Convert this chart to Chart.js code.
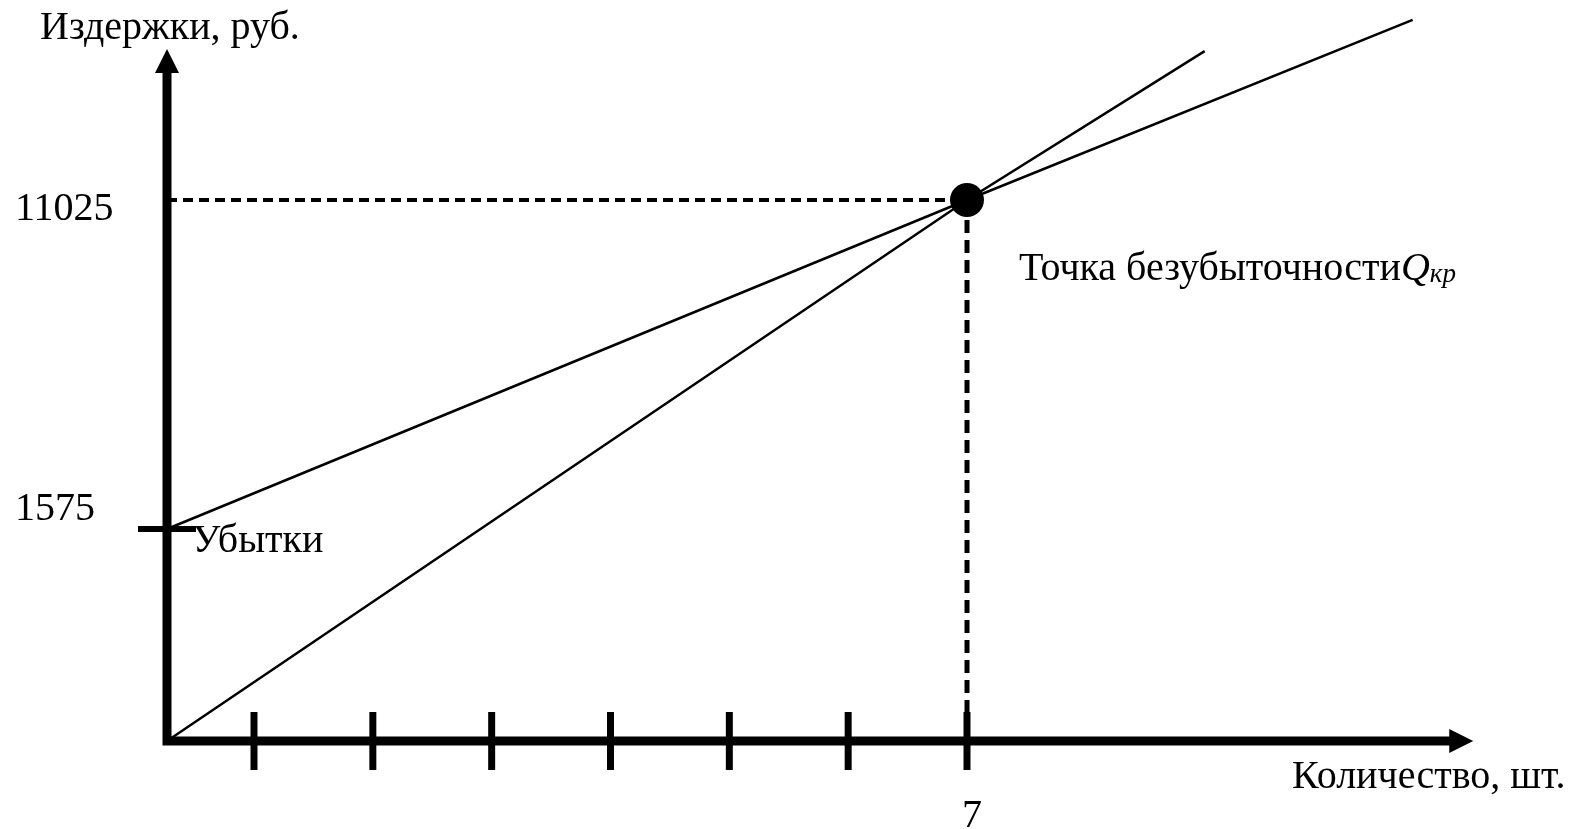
<!DOCTYPE html>
<html>
<head>
<meta charset="utf-8">
<script src="https://cdn.jsdelivr.net/npm/chart.js@4"></script>
<style>
  html, body { margin: 0; padding: 0; background: #fff; }
  #wrap { width: 1575px; height: 829px; position: relative; }
</style>
</head>
<body>
<div id="wrap"><canvas id="breakEvenChart"></canvas></div>
<script>
// quantity, pcs (tick marks on the x axis)
const tickQuantities = [1, 2, 3, 4, 5, 6, 7];
const breakEvenQty = 7;
const breakEvenCost = 11025;
const fixedCost = 1575;

// the two lines as drawn; the last point is where each line stops on the picture
const revenueQty = [0, 7, 9];
const revenueCost = [0, 11025, 15300];
const totalQty = [0, 7, 10.75];
const totalCost = [1575, 11025, 16200];

const yTickValues = [1575, 11025];
const yTickLabels = ['1575', '11025'];
const xTickLabel = '7';

// where the axis arrows end
const xAxisEnd = 11.26;
const yAxisEnd = 15360;

// the picture is not drawn to scale, so each axis is piecewise linear:
// [value, fraction of the plot area]
const scaleKnots = {
    x: [[0, 167 / 1575], [1, 254 / 1575], [7, 967 / 1575]],
    y: [[0, 88 / 829], [1575, 300 / 829], [11025, 629 / 829]]
};

class PiecewiseScale extends Chart.LinearScale {
    static id = 'piecewise';
    static defaults = Chart.LinearScale.defaults;

    fraction(v) {
        const k = scaleKnots[this.id];
        let i = 0;
        while (i < k.length - 2 && v > k[i + 1][0]) i++;
        const [v0, f0] = k[i], [v1, f1] = k[i + 1];
        return f0 + (v - v0) * (f1 - f0) / (v1 - v0);
    }
    getPixelForValue(v) {
        return this.getPixelForDecimal(this.fraction(v));
    }
    getValueForPixel(p) {
        const k = scaleKnots[this.id];
        const f = this.getDecimalForPixel(p);
        let i = 0;
        while (i < k.length - 2 && f > k[i + 1][1]) i++;
        const [v0, f0] = k[i], [v1, f1] = k[i + 1];
        return v0 + (f - f0) * (v1 - v0) / (f1 - f0);
    }
}
Chart.register(PiecewiseScale);

const pts = (xs, ys) => xs.map((x, i) => ({ x: x, y: ys[i] }));
const SERIF = '"Liberation Serif", "Times New Roman", serif';

const axesPlugin = {
    id: 'arrowAxes',
    beforeDatasetsDraw(chart) {
        const { ctx, scales: { x, y } } = chart;
        const x0 = x.getPixelForValue(0), y0 = y.getPixelForValue(0);
        const xEnd = x.getPixelForValue(xAxisEnd), yEnd = y.getPixelForValue(yAxisEnd);
        ctx.save();
        ctx.strokeStyle = '#000';
        ctx.fillStyle = '#000';
        ctx.lineWidth = 9;
        ctx.lineJoin = 'miter';
        ctx.beginPath();
        ctx.moveTo(x0, yEnd + 20);
        ctx.lineTo(x0, y0);
        ctx.lineTo(xEnd - 20, y0);
        ctx.stroke();
        ctx.beginPath();
        ctx.moveTo(x0, yEnd);
        ctx.lineTo(x0 - 12, yEnd + 24);
        ctx.lineTo(x0 + 12, yEnd + 24);
        ctx.closePath();
        ctx.fill();
        ctx.beginPath();
        ctx.moveTo(xEnd, y0);
        ctx.lineTo(xEnd - 24, y0 - 12);
        ctx.lineTo(xEnd - 24, y0 + 12);
        ctx.closePath();
        ctx.fill();
        ctx.restore();
    }
};

const textPlugin = {
    id: 'labels',
    afterDraw(chart) {
        const { ctx, scales: { x, y } } = chart;
        ctx.save();
        ctx.fillStyle = '#000';
        ctx.textBaseline = 'alphabetic';
        ctx.font = '40px ' + SERIF;

        ctx.textAlign = 'left';
        ctx.fillText('Издержки, руб.', 40, 39);
        yTickValues.forEach((v, i) => {
            ctx.fillText(yTickLabels[i], 15, y.getPixelForValue(v) + (i === 0 ? -9 : 20));
        });
        ctx.fillText('Убытки', x.getPixelForValue(0) + 25, y.getPixelForValue(fixedCost) + 23);
        ctx.fillText('Количество, шт.', 1292, 788);

        ctx.textAlign = 'center';
        ctx.fillText(xTickLabel, x.getPixelForValue(breakEvenQty) + 5, 827);

        ctx.textAlign = 'left';
        const label = 'Точка безубыточности';
        const lx = 1019, ly = 280;
        ctx.fillText(label, lx, ly);
        let w = ctx.measureText(label).width;
        ctx.font = 'italic 40px ' + SERIF;
        ctx.fillText('Q', lx + w, ly);
        w += ctx.measureText('Q').width;
        ctx.font = 'italic 27px ' + SERIF;
        ctx.fillText('кр', lx + w, ly + 2);
        ctx.restore();
    }
};

const ctx = document.getElementById('breakEvenChart').getContext('2d');
new Chart(ctx, {
    type: 'scatter',
    data: {
        datasets: [
            {   // break-even point
                data: [{ x: breakEvenQty, y: breakEvenCost }],
                pointRadius: 17,
                pointBackgroundColor: '#000',
                pointBorderWidth: 0
            },
            {   // revenue
                data: pts(revenueQty, revenueCost),
                showLine: true,
                borderColor: '#000',
                borderWidth: 2.5,
                pointRadius: 0
            },
            {   // total costs
                data: pts(totalQty, totalCost),
                showLine: true,
                borderColor: '#000',
                borderWidth: 2.5,
                pointRadius: 0
            },
            {
                data: [{ x: 0, y: breakEvenCost }, { x: breakEvenQty, y: breakEvenCost }],
                showLine: true,
                borderColor: '#000',
                borderWidth: 4,
                borderDash: [10, 6],
                pointRadius: 0
            },
            {
                data: [{ x: breakEvenQty, y: breakEvenCost }, { x: breakEvenQty, y: 0 }],
                showLine: true,
                borderColor: '#000',
                borderWidth: 5,
                borderDash: [13, 7],
                pointRadius: 0
            },
            {   // x tick marks
                data: tickQuantities.map(q => ({ x: q, y: 0 })),
                pointStyle: 'line',
                pointRotation: 90,
                pointRadius: 29,
                pointBorderColor: '#000',
                pointBorderWidth: 7
            },
            {   // fixed cost mark
                data: [{ x: 0, y: fixedCost }],
                pointStyle: 'line',
                pointRadius: 29,
                pointBorderColor: '#000',
                pointBorderWidth: 6
            }
        ]
    },
    options: {
        responsive: true,
        maintainAspectRatio: false,
        animation: false,
        events: [],
        layout: { padding: 0, autoPadding: false },
        scales: {
            x: { type: 'piecewise', display: false, min: 0, max: 13 },
            y: { type: 'piecewise', display: false, min: 0, max: 18000 }
        },
        plugins: { legend: { display: false }, tooltip: { enabled: false } }
    },
    plugins: [axesPlugin, textPlugin]
});
</script>
</body>
</html>
